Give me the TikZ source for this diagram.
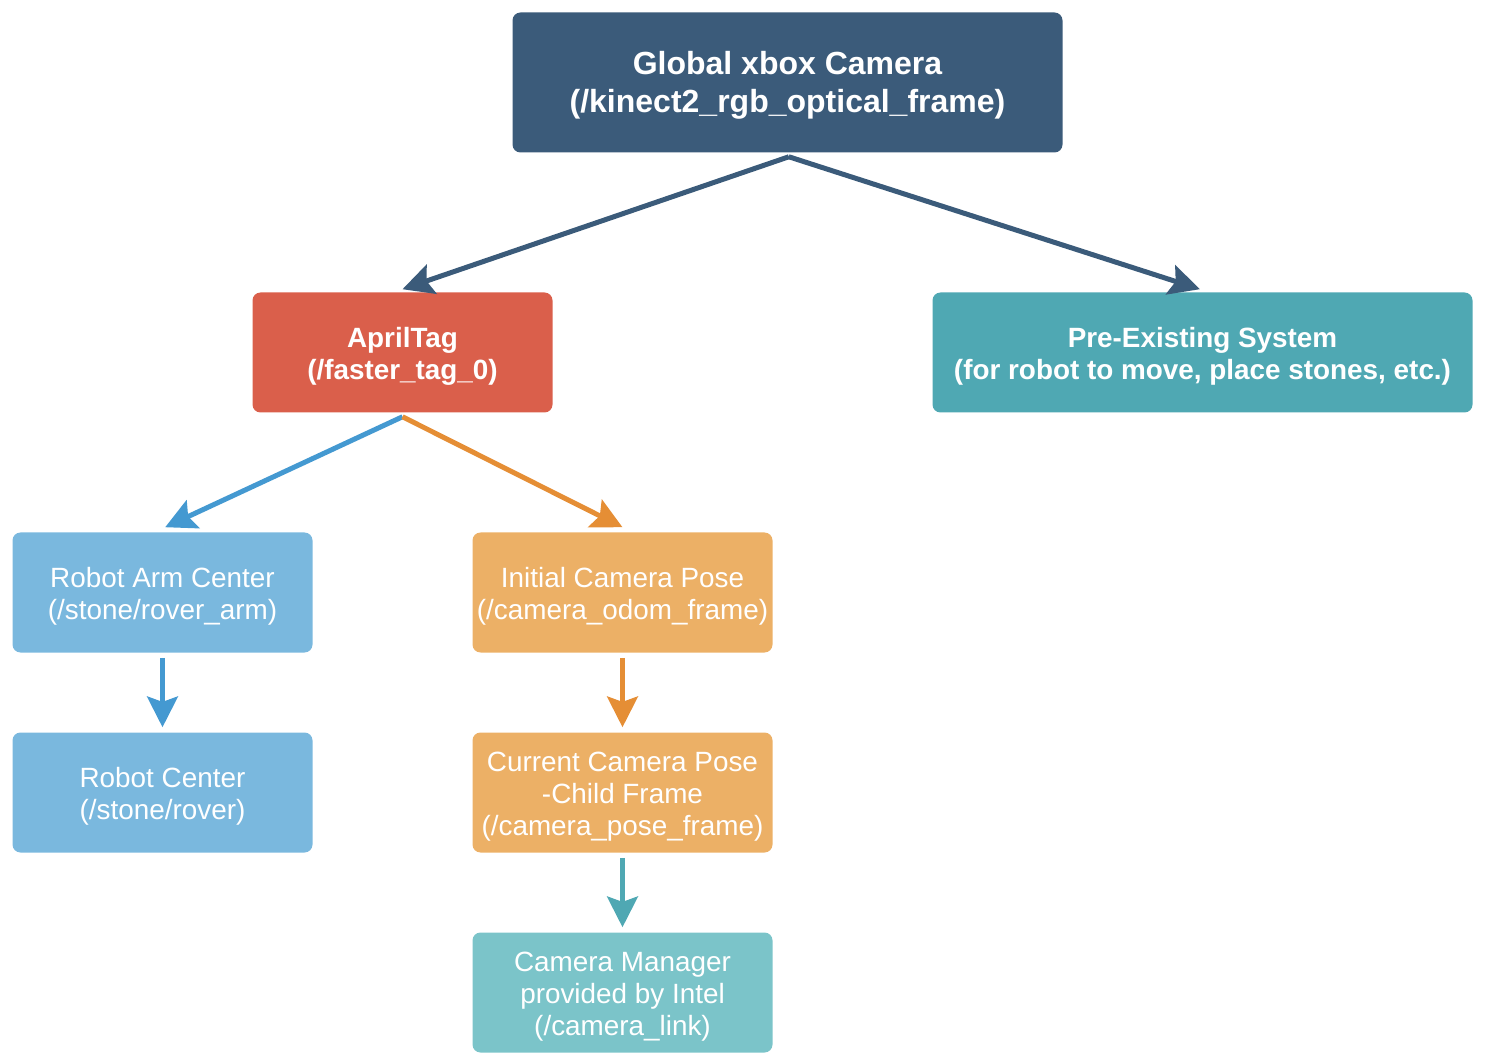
\documentclass[tikz,border=0pt]{standalone}
\usepackage{fontspec}
\setmainfont{Liberation Sans}
\usetikzlibrary{arrows.meta}
\definecolor{cdark}{HTML}{3B5B7A}
\definecolor{cred}{HTML}{DA5F4B}
\definecolor{cteal}{HTML}{4FA8B3}
\definecolor{cltblue}{HTML}{7AB8DE}
\definecolor{cblue}{HTML}{4499D1}
\definecolor{cltorange}{HTML}{ECB066}
\definecolor{corange}{HTML}{E58E35}
\definecolor{cltteal}{HTML}{7BC4C9}
\tikzset{
  box/.style={rounded corners=6pt, inner sep=0pt,
    minimum width=225pt, minimum height=90pt},
  lbl/.style={text=white, align=center, inner sep=0pt, yshift=-3pt,
    font=\fontsize{20.9pt}{24pt}\selectfont},
  boldlbl/.style={lbl, font=\fontsize{20.9pt}{24pt}\selectfont\bfseries},
  titlelbl/.style={lbl, yshift=0.75pt, font=\fontsize{24pt}{28.5pt}\selectfont\bfseries},
  conn/.style={line width=3.75pt, -{Stealth[length=23pt, width=23pt, inset=4pt]}},
}
\begin{document}
\begin{tikzpicture}[x=0.75pt, y=-0.75pt]
\useasboundingbox (0,0) rectangle (1486,1062);
\node[box, fill=cdark, minimum width=412.5pt, minimum height=105pt,
  label={[titlelbl]center:{Global xbox Camera\\(/kinect2\_rgb\_optical\_frame)}}] (top) at (787.5,82.5) {};
\node[box, fill=cred, label={[boldlbl]center:{AprilTag\\(/faster\_tag\_0)}}] (april) at (402.5,352.5) {};
\node[box, fill=cteal, minimum width=405pt,
  label={[boldlbl]center:{Pre-Existing System\\(for robot to move, place stones, etc.)}}] (pre) at (1202.5,352.5) {};
\node[box, fill=cltblue, label={[lbl]center:{Robot Arm Center\\(/stone/rover\_arm)}}] (arm) at (162.5,592.5) {};
\node[box, fill=cltorange, label={[lbl]center:{Initial Camera Pose\\(/camera\_odom\_frame)}}] (init) at (622.5,592.5) {};
\node[box, fill=cltblue, label={[lbl]center:{Robot Center\\(/stone/rover)}}] (rc) at (162.5,792.5) {};
\node[box, fill=cltorange, label={[lbl]center:{Current Camera Pose\\-Child Frame\\(/camera\_pose\_frame)}}] (cur) at (622.5,792.5) {};
\node[box, fill=cltteal, label={[lbl]center:{Camera Manager\\provided by Intel\\(/camera\_link)}}] (cm) at (622.5,992.5) {};

\draw[conn, draw=cdark, fill=cdark] ([xshift=1pt,yshift=-3pt]top.south) -- ([yshift=2.25pt]april.north);
\draw[conn, draw=cdark, fill=cdark] ([xshift=1pt,yshift=-3pt]top.south) -- ([xshift=-2pt,yshift=2.25pt]pre.north);
\draw[conn, draw=cblue, fill=cblue] ([yshift=-3pt]april.south) -- ([xshift=2pt,yshift=3.75pt]arm.north);
\draw[conn, draw=corange, fill=corange] ([yshift=-3pt]april.south) -- ([yshift=3.75pt]init.north);
\draw[conn, draw=cblue, fill=cblue] ([yshift=-3.75pt]arm.south) -- ([yshift=3.75pt]rc.north);
\draw[conn, draw=corange, fill=corange] ([yshift=-3.75pt]init.south) -- ([yshift=3.75pt]cur.north);
\draw[conn, draw=cteal, fill=cteal] ([yshift=-3.75pt]cur.south) -- ([yshift=3.75pt]cm.north);
\end{tikzpicture}
\end{document}
